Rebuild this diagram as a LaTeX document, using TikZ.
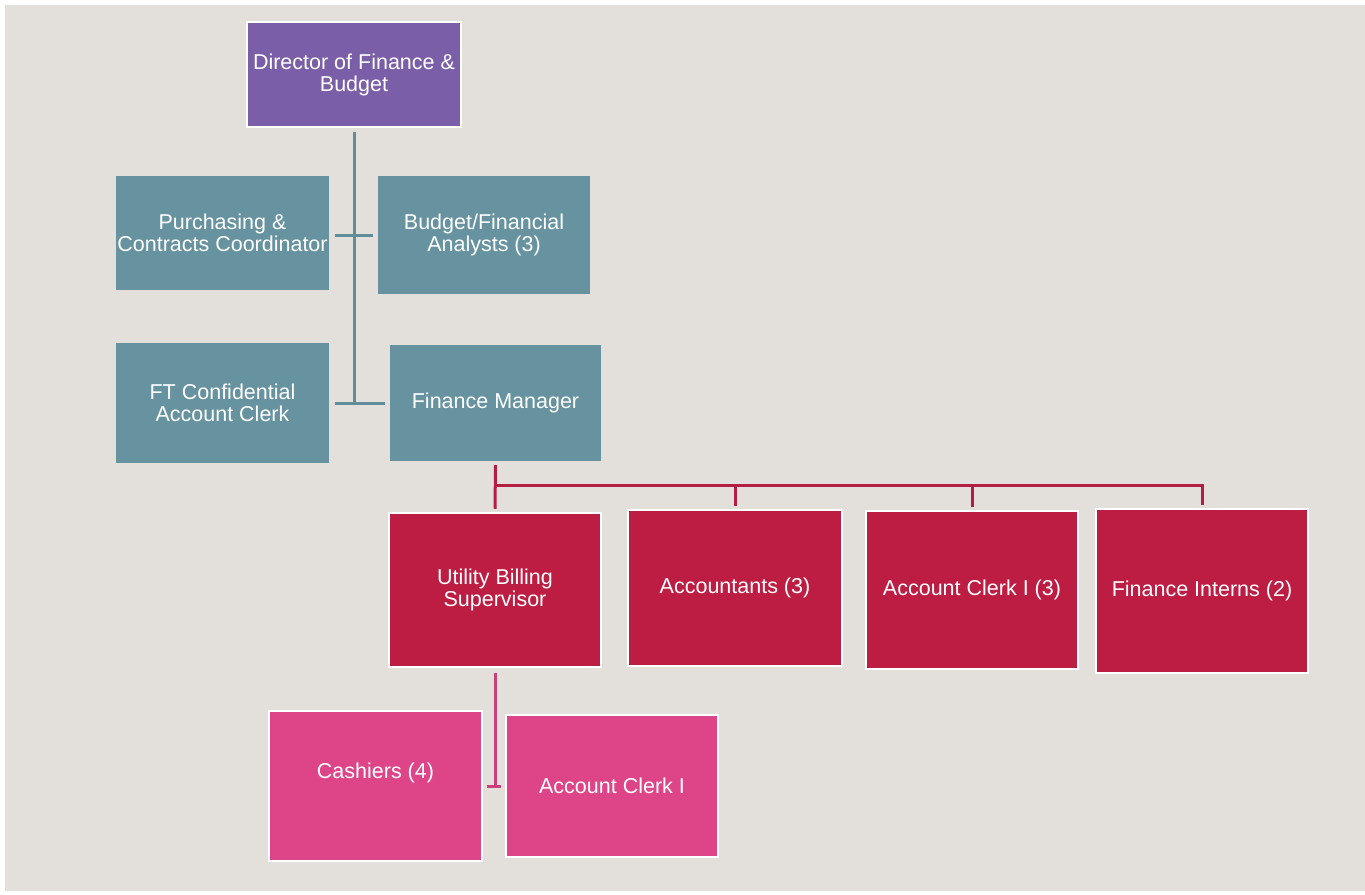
\documentclass[tikz,border=0pt]{standalone}
\usepackage{fontspec}
\setmainfont{Liberation Sans}
\usepackage{tikz}
\definecolor{bggray}{HTML}{E3E0DC}
\definecolor{dirpurple}{HTML}{7B5EA8}
\definecolor{staffteal}{HTML}{6792A0}
\definecolor{unitred}{HTML}{BD1D42}
\definecolor{clerkpink}{HTML}{DE4589}
\definecolor{teallink}{HTML}{5F8D99}
\definecolor{redlink}{HTML}{B41E45}
\definecolor{pinklink}{HTML}{C8407C}

\begin{document}
\begin{tikzpicture}[x=1pt, y=-1pt]
\tikzstyle{box} = [rectangle, text=white, align=center, inner sep=0pt, font=\fontsize{21.5}{22}\selectfont]
\tikzstyle{dirbox} = [box, fill=dirpurple, draw=white, line width=2.5pt]
\tikzstyle{staffbox} = [box, fill=staffteal]
\tikzstyle{unitbox} = [box, fill=unitred, draw=white, line width=2.5pt]
\tikzstyle{clerkbox} = [box, fill=clerkpink, draw=white, line width=2.5pt]
\tikzstyle{tealline} = [line width=3pt, draw=teallink]
\tikzstyle{redline} = [line width=3pt, draw=redlink]
\tikzstyle{pinkline} = [line width=3pt, draw=pinklink]

\useasboundingbox (0,0) rectangle (1365,894);
\fill [bggray] (5,5) rectangle (1365,891);

% top of the chart
\node [dirbox, minimum width=214pt, minimum height=105pt] (dir) at (354,74.5) {Director of Finance \&\\Budget};
\node [staffbox, minimum width=213pt, minimum height=114pt] (pc) at (222.5,233) {Purchasing \&\\Contracts Coordinator};
\node [staffbox, minimum width=212pt, minimum height=118pt] (bfa) at (484,235) {Budget/Financial\\Analysts (3)};
\node [staffbox, minimum width=213pt, minimum height=120pt] (ft) at (222.5,403) {FT Confidential\\Account Clerk};
\node [staffbox, minimum width=211pt, minimum height=116pt] (fm) at (495.5,403) {Finance Manager};

% under the finance manager
\node [unitbox, minimum width=212pt, minimum height=154pt] (ubs) at (495,590) {Utility Billing\\Supervisor};
\node [unitbox, minimum width=214pt, minimum height=156pt] (acc) at (735,588) {Accountants (3)};
\node [unitbox, minimum width=212pt, minimum height=158pt] (ac3) at (972,590) {Account Clerk I (3)};
\node [unitbox, minimum width=212pt, minimum height=164pt] (fi) at (1202,591) {Finance Interns (2)};

% under the billing supervisor
\node [clerkbox, minimum width=213pt, minimum height=150pt, text height=16pt, text depth=31pt] (cash) at (375.5,786) {Cashiers (4)};
\node [clerkbox, minimum width=212pt, minimum height=142pt] (ac1) at (612,786) {Account Clerk I};

\draw [tealline] ([yshift=-4pt]dir.south) -- (dir.south |- fm.west);
\draw [tealline] ([xshift=6pt]pc.east |- bfa.west) -- ([xshift=-5pt]bfa.west);
\draw [tealline] ([xshift=6pt]ft.east |- fm.west) -- ([xshift=-5pt]fm.west);

\coordinate (bus) at (0,485);
\draw [redline] ([yshift=-4pt]fm.south) -- ([yshift=3pt]ubs.north);
\draw [redline] (fm.south |- bus) -- (fi.north |- bus) -- ([yshift=3pt]fi.north);
\draw [redline] (acc.north |- bus) -- ([yshift=3pt]acc.north);
\draw [redline] (ac3.north |- bus) -- ([yshift=3pt]ac3.north);

\draw [pinkline] ([yshift=-5pt]ubs.south) -- (ubs.south |- ac1.west);
\draw [pinkline] ([xshift=4pt]cash.east |- ac1.west) -- ([xshift=-4pt]ac1.west);
\end{tikzpicture}
\end{document}
